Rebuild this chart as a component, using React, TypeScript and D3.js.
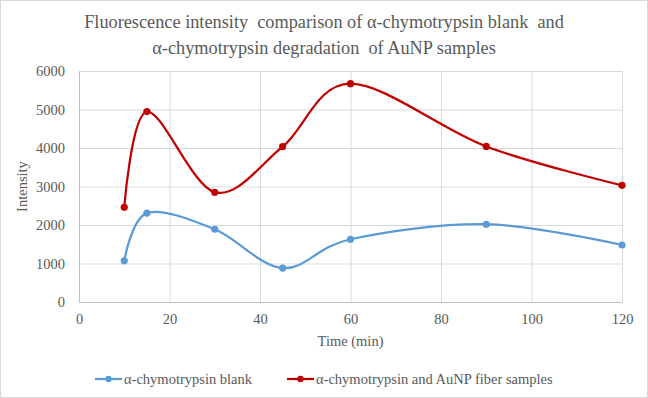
import React, { useRef, useEffect } from 'react'
import * as d3 from 'd3'

// Intensité de fluorescence, deux séries lissées (façon Excel)
const times = [10, 15, 30, 45, 60, 90, 120]
const blankValues = [1070, 2310, 1890, 880, 1630, 2020, 1480]
const aunpValues = [2460, 4945, 2850, 4035, 5670, 4040, 3030]
const xTicks = [0, 20, 40, 60, 80, 100, 120]
const yTicks = [0, 1000, 2000, 3000, 4000, 5000, 6000]
const seriesNames = ['α-chymotrypsin blank', 'α-chymotrypsin and AuNP fiber samples']
const titleLines = [
  'Fluorescence intensity  comparison of α-chymotrypsin blank  and',
  'α-chymotrypsin degradation  of AuNP samples',
]

export default function App() {
  const svgRef = useRef<SVGSVGElement>(null)

  useEffect(() => {
    const svg = d3.select(svgRef.current)
    svg.selectAll('*').remove()

    const width = 648
    const height = 398
    const margin = { top: 71, right: 26, bottom: 96, left: 79 }
    const chartWidth = width - margin.left - margin.right
    const chartHeight = height - margin.top - margin.bottom
    const font = 'Liberation Serif, Times New Roman, serif'
    const textColor = '#595959'
    const gridColor = '#d9d9d9'
    const colors = ['#5b9bd5', '#c00000']

    // cadre
    svg.append('rect')
      .attr('x', 0.5).attr('y', 0.5)
      .attr('width', width - 1).attr('height', height - 1)
      .attr('fill', '#fff').attr('stroke', gridColor)

    const x = d3.scaleLinear().domain([0, 120]).range([0, chartWidth])
    const y = d3.scaleLinear().domain([0, 6000]).range([chartHeight, 0])

    // titre
    titleLines.forEach((t, i) => {
      svg.append('text')
        .attr('x', width / 2).attr('y', 28 + i * 26)
        .attr('text-anchor', 'middle')
        .attr('fill', textColor)
        .attr('font-family', font).attr('font-size', 18.3)
        .style('white-space', 'pre')
        .text(t)
    })

    const g = svg.append('g').attr('transform', `translate(${margin.left}, ${margin.top})`)

    // grilles
    g.append('g')
      .call(d3.axisLeft(y).tickValues(yTicks).tickSize(-chartWidth).tickFormat(() => ''))
      .call((g) => g.selectAll('.tick line').attr('stroke', gridColor))
      .call((g) => g.select('.domain').remove())
    g.append('g')
      .attr('transform', `translate(0, ${chartHeight})`)
      .call(d3.axisBottom(x).tickValues(xTicks).tickSize(-chartHeight).tickFormat(() => ''))
      .call((g) => g.selectAll('.tick line').attr('stroke', gridColor))
      .call((g) => g.select('.domain').remove())

    // axes
    g.append('g')
      .attr('transform', `translate(0, ${chartHeight})`)
      .call(d3.axisBottom(x).tickValues(xTicks).tickSize(0).tickPadding(12).tickFormat(d3.format('d')))
      .attr('font-family', font).attr('font-size', 14.5)
      .call((g) => g.select('.domain').attr('stroke', '#bfbfbf'))
      .call((g) => g.selectAll('.tick text').attr('fill', textColor))
    g.append('g')
      .call(d3.axisLeft(y).tickValues(yTicks).tickSize(0).tickPadding(14).tickFormat(d3.format('d')))
      .attr('font-family', font).attr('font-size', 14.5)
      .call((g) => g.select('.domain').attr('stroke', '#bfbfbf'))
      .call((g) => g.selectAll('.tick text').attr('fill', textColor))

    g.append('text')
      .attr('x', chartWidth / 2).attr('y', chartHeight + 44)
      .attr('text-anchor', 'middle').attr('fill', textColor)
      .attr('font-family', font).attr('font-size', 14.5)
      .text('Time (min)')
    g.append('text')
      .attr('transform', `translate(-52, ${chartHeight / 2}) rotate(-90)`)
      .attr('text-anchor', 'middle').attr('fill', textColor)
      .attr('font-family', font).attr('font-size', 14.5)
      .text('Intensity')

    // courbes
    const line = d3.line<[number, number]>()
      .x((d) => x(d[0]))
      .y((d) => y(d[1]))
      .curve(d3.curveCardinal.tension(0))
    ;[blankValues, aunpValues].forEach((vals, k) => {
      const pts: [number, number][] = times.map((t, i) => [t, vals[i]])
      g.append('path')
        .datum(pts)
        .attr('fill', 'none')
        .attr('stroke', colors[k])
        .attr('stroke-width', 2.25)
        .attr('d', line)
      g.selectAll(null)
        .data(pts)
        .enter()
        .append('circle')
        .attr('cx', (d) => x(d[0]))
        .attr('cy', (d) => y(d[1]))
        .attr('r', 3.6)
        .attr('fill', colors[k])
    })

    // légende
    const legendX = [95, 287]
    seriesNames.forEach((name, k) => {
      const lg = svg.append('g').attr('transform', `translate(${legendX[k]}, 379)`)
      lg.append('line')
        .attr('x1', 0).attr('x2', 27)
        .attr('stroke', colors[k]).attr('stroke-width', 2.25)
      lg.append('circle').attr('cx', 13.5).attr('r', 3.2).attr('fill', colors[k])
      lg.append('text')
        .attr('x', 29).attr('y', 4.5)
        .attr('fill', textColor)
        .attr('font-family', font).attr('font-size', 14.5)
        .text(name)
    })
  }, [])

  return (
    <svg
      ref={svgRef}
      width={648}
      height={398}
      viewBox="0 0 648 398"
      style={{ position: 'absolute', left: 0, top: 0 }}
    />
  )
}
